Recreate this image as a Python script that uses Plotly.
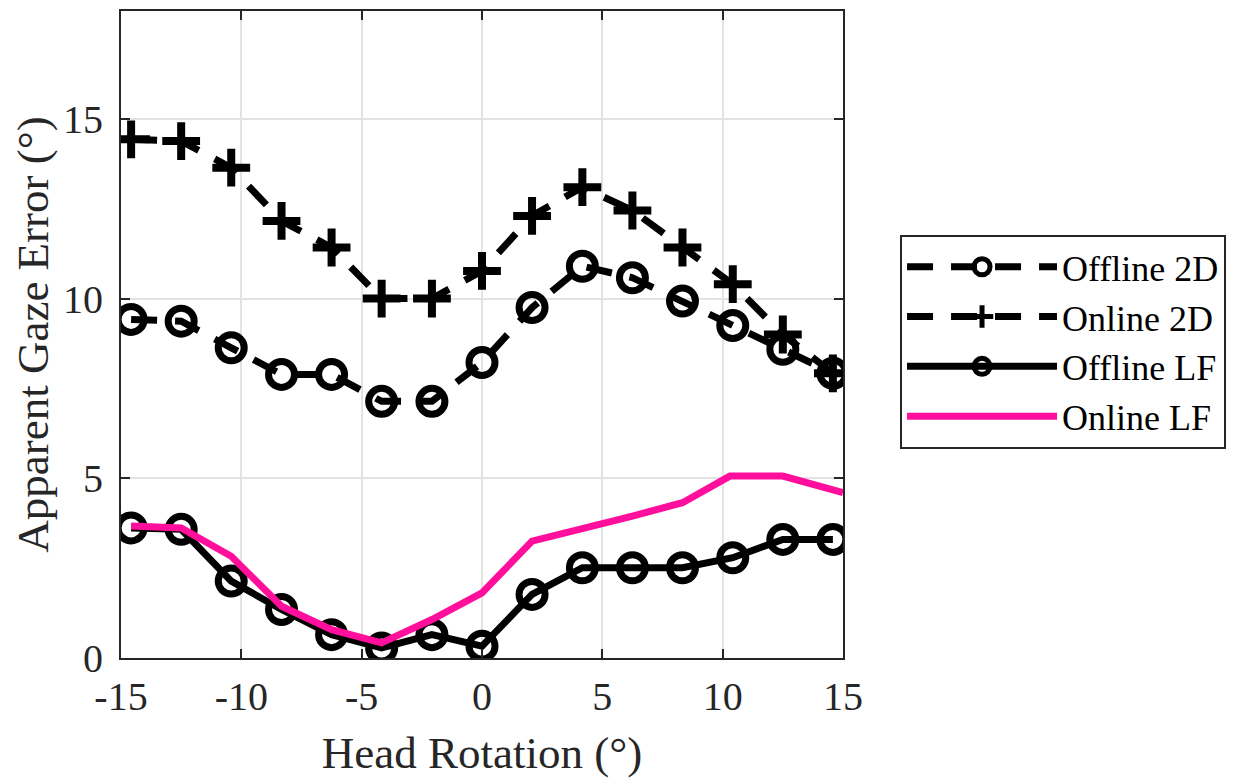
import plotly.graph_objects as go

head_rotation = [-14.58, -12.5, -10.42, -8.33, -6.25, -4.17, -2.08, 0.0,
                 2.08, 4.17, 6.25, 8.33, 10.42, 12.5, 14.58]
offline_2d = [9.42, 9.37, 8.63, 7.89, 7.89, 7.14, 7.14, 8.22,
              9.75, 10.9, 10.58, 9.93, 9.25, 8.59, 7.92]
online_2d = [14.43, 14.38, 13.64, 12.16, 11.42, 10.0, 10.0, 10.77,
             12.30, 13.10, 12.45, 11.42, 10.40, 9.0, 7.92]
offline_lf = [3.62, 3.58, 2.14, 1.35, 0.65, 0.28, 0.65, 0.33,
              1.77, 2.51, 2.51, 2.51, 2.79, 3.30, 3.30]
online_lf_x = [-14.58, -12.5, -10.42, -8.33, -6.25, -4.17, -2.08, 0.0,
               2.08, 4.17, 6.25, 8.33, 10.3, 12.5, 15.0]
online_lf = [3.67, 3.62, 2.83, 1.44, 0.79, 0.42, 1.07, 1.81,
             3.25, 3.58, 3.95, 4.32, 5.06, 5.06, 4.6]

x_ticks = [-15, -10, -5, 0, 5, 10, 15]
y_ticks = [0, 5, 10, 15]

FONT = "Liberation Serif"
BLACK = "#000000"
AXIS = "#262626"
PINK = "#FF0F9B"
DASH = "26px,18px"

fig = go.Figure()
fig.add_trace(go.Scatter(
    x=head_rotation, y=offline_2d, name="Offline 2D", mode="lines+markers",
    line=dict(color=BLACK, width=7, dash=DASH),
    marker=dict(symbol="circle-open", size=26, color=BLACK, line=dict(width=7, color=BLACK)),
))
fig.add_trace(go.Scatter(
    x=head_rotation, y=online_2d, name="Online 2D", mode="lines+markers",
    line=dict(color=BLACK, width=7, dash=DASH),
    marker=dict(symbol="cross-thin-open", size=27, color=BLACK, line=dict(width=8, color=BLACK)),
))
fig.add_trace(go.Scatter(
    x=head_rotation, y=offline_lf, name="Offline LF", mode="lines+markers",
    line=dict(color=BLACK, width=7),
    marker=dict(symbol="circle-open", size=26, color=BLACK, line=dict(width=7, color=BLACK)),
))
fig.add_trace(go.Scatter(
    x=online_lf_x, y=online_lf, name="Online LF", mode="lines",
    line=dict(color=PINK, width=7),
))

axis_common = dict(
    showgrid=True, gridcolor="#e3e3e3", gridwidth=1.5,
    showline=True, linecolor=AXIS, linewidth=2, mirror="ticks",
    ticks="inside", ticklen=9, tickwidth=2, tickcolor=AXIS,
    zeroline=False,
    tickfont=dict(family=FONT, size=40, color=AXIS),
)

fig.update_layout(
    width=1242, height=778,
    paper_bgcolor="white", plot_bgcolor="white",
    margin=dict(l=113, r=407, t=3, b=128, autoexpand=False),
    font=dict(family=FONT, color=AXIS),
    xaxis=dict(range=[-15, 15], tickvals=x_ticks,
               ticktext=[str(v) for v in x_ticks],
               ticklabelstandoff=2,
               title=dict(text="Head Rotation (°)", font=dict(family=FONT, size=45, color=AXIS),
                          standoff=18),
               **axis_common),
    yaxis=dict(range=[0, 18], tickvals=y_ticks,
               ticktext=[str(v) for v in y_ticks],
               ticklabelstandoff=8,
               title=dict(text="Apparent Gaze Error (°)", font=dict(family=FONT, size=45, color=AXIS),
                          standoff=16),
               **axis_common),
    legend=dict(
        x=1.079, y=0.654, xanchor="left", yanchor="top",
        bgcolor="white", bordercolor=AXIS, borderwidth=2,
        font=dict(family=FONT, size=36, color=BLACK),
        itemwidth=150,
    ),
)

fig.write_html("out.html")
